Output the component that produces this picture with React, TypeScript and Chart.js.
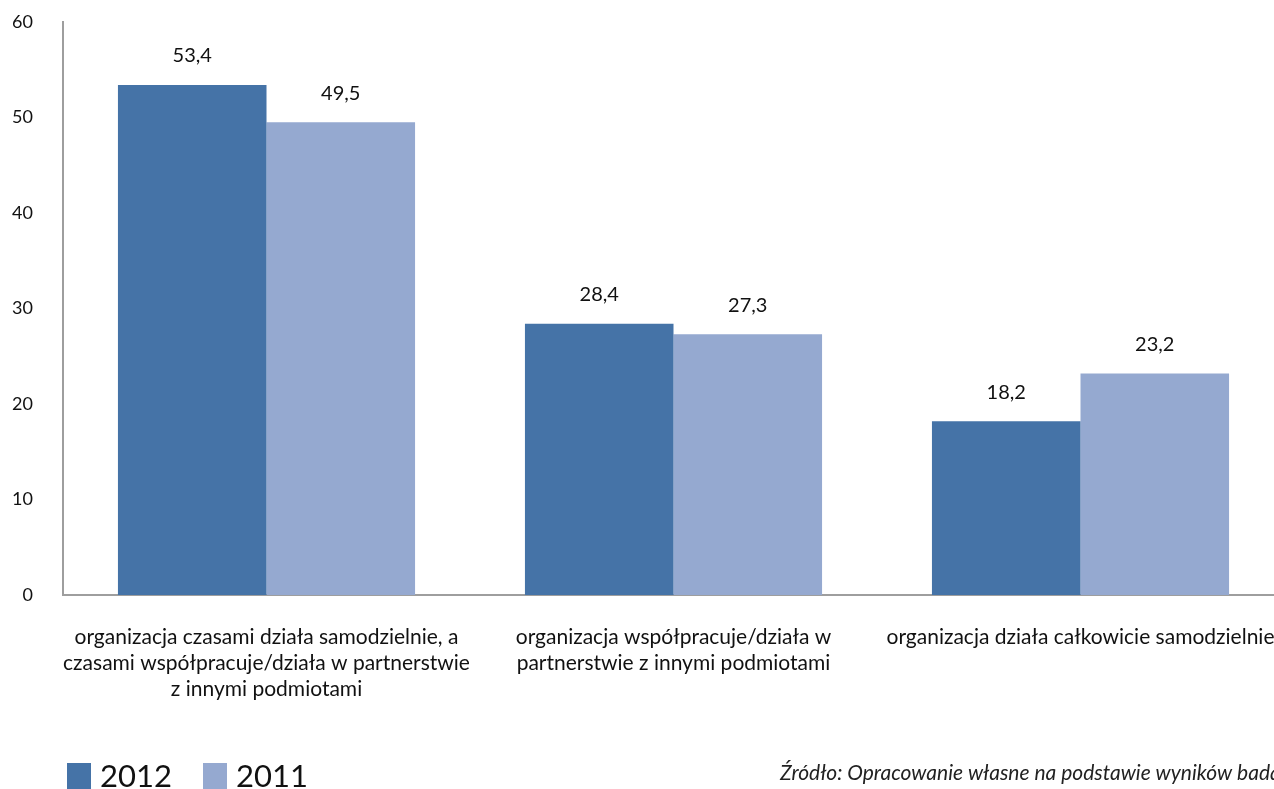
import React, { useEffect, useRef } from "react";
import { Chart, registerables } from "chart.js";

Chart.register(...registerables);

const categories: string[][] = [
  ["organizacja czasami działa samodzielnie, a", "czasami współpracuje/działa w partnerstwie", "z innymi podmiotami"],
  ["organizacja współpracuje/działa w", "partnerstwie z innymi podmiotami"],
  ["organizacja działa całkowicie samodzielnie"],
];
const values2012 = [53.4, 28.4, 18.2];
const values2011 = [49.5, 27.3, 23.2];
const seriesLabels = ["2012", "2011"];
const yTicks = [0, 10, 20, 30, 40, 50, 60];
const sourceText = "Źródło: Opracowanie własne na podstawie wyników badań";

const FONT = "Lato, 'Open Sans', sans-serif";
const COLOR_2012 = "#4573A7";
const COLOR_2011 = "#95A9D0";

export default function App() {
  const ref = useRef<HTMLCanvasElement | null>(null);

  useEffect(() => {
    const canvas = ref.current;
    if (!canvas) return;

    const valueLabels = {
      id: "valueLabels",
      afterDatasetsDraw(chart: any) {
        const ctx = chart.ctx;
        ctx.save();
        ctx.font = `20px ${FONT}`;
        ctx.fillStyle = "#111";
        ctx.textAlign = "center";
        ctx.textBaseline = "middle";
        chart.data.datasets.forEach((ds: any, i: number) => {
          const meta = chart.getDatasetMeta(i);
          meta.data.forEach((bar: any, j: number) => {
            const v = ds.data[j] as number;
            ctx.fillText(v.toFixed(1).replace(".", ","), bar.x, bar.y - 29);
          });
        });
        ctx.restore();
      },
    };

    const extras = {
      id: "extras",
      afterDraw(chart: any) {
        const ctx = chart.ctx;
        ctx.save();
        const items = [
          { x: 67, color: COLOR_2012, label: seriesLabels[0] },
          { x: 203, color: COLOR_2011, label: seriesLabels[1] },
        ];
        ctx.font = `31px ${FONT}`;
        ctx.textBaseline = "alphabetic";
        ctx.textAlign = "left";
        items.forEach((it) => {
          ctx.fillStyle = it.color;
          ctx.fillRect(it.x, 763, 24, 26);
          ctx.fillStyle = "#111";
          ctx.fillText(it.label, it.x + 33, 787);
        });
        ctx.font = `italic 21px ${FONT}`;
        ctx.fillStyle = "#222";
        ctx.textBaseline = "middle";
        ctx.fillText(sourceText, 780, 773);
        ctx.restore();
      },
    };

    const chart = new Chart(canvas, {
      type: "bar",
      data: {
        labels: categories,
        datasets: [
          {
            label: seriesLabels[0],
            data: values2012,
            backgroundColor: COLOR_2012,
            categoryPercentage: 0.73,
            barPercentage: 1.0,
          },
          {
            label: seriesLabels[1],
            data: values2011,
            backgroundColor: COLOR_2011,
            categoryPercentage: 0.73,
            barPercentage: 1.0,
          },
        ],
      },
      options: {
        animation: false,
        responsive: false,
        maintainAspectRatio: false,
        layout: { padding: { top: 22, left: 0, right: 0, bottom: 0 } },
        plugins: {
          legend: { display: false },
          tooltip: { enabled: false },
        },
        scales: {
          x: {
            grid: { display: false, drawTicks: false },
            border: { display: true, color: "#9e9e9e", width: 2 },
            ticks: {
              color: "#111",
              font: { family: FONT, size: 21, lineHeight: 1.24 },
              padding: 29,
              maxRotation: 0,
              autoSkip: false,
            },
            afterFit(scale: any) {
              scale.height = 194;
              scale.paddingLeft = 0;
              scale.paddingRight = 0;
              scale.paddingTop = 0;
              scale.paddingBottom = 0;
            },
          },
          y: {
            min: 0,
            max: 60,
            afterBuildTicks(scale: any) {
              scale.ticks = yTicks.map((v) => ({ value: v }));
            },
            grid: { display: false, drawTicks: false },
            border: { display: true, color: "#9e9e9e", width: 2 },
            ticks: {
              color: "#111",
              font: { family: FONT, size: 18 },
              padding: 30,
            },
            afterFit(scale: any) {
              scale.width = 63;
              scale.paddingTop = 0;
              scale.paddingBottom = 0;
              scale.paddingLeft = 0;
              scale.paddingRight = 0;
            },
          },
        },
      },
      plugins: [valueLabels, extras],
    } as any);

    return () => chart.destroy();
  }, []);

  return (
    <div
      style={{
        position: "fixed",
        left: 0,
        top: 0,
        width: 1274,
        height: 789,
        overflow: "hidden",
        background: "#fff",
      }}
    >
      <canvas ref={ref} width={1284} height={789} style={{ display: "block", width: 1284, height: 789 }} />
    </div>
  );
}
